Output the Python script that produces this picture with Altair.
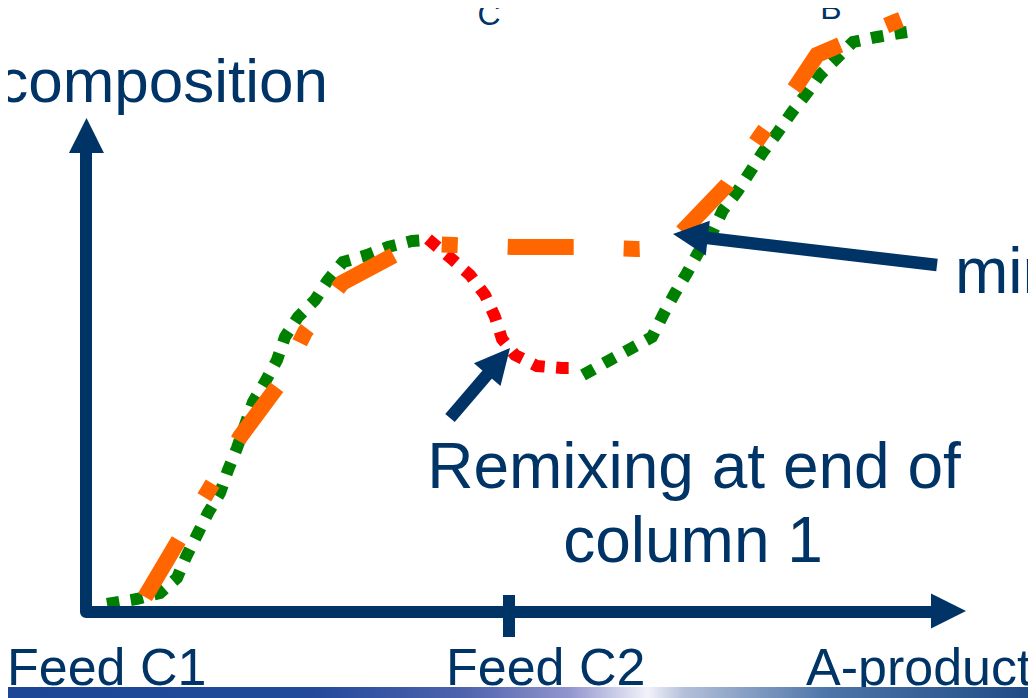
import math
import altair as alt
import pandas as pd

NAVY = "#003366"
GREEN = "#008000"
RED = "#FF0000"
ORANGE = "#FF6600"
FONT = "Liberation Sans"

W, H = 1020, 690
# picture frame (x from left, y from top)
X_DOMAIN = [8, 1028]
Y_DOMAIN = [8, 698]

# --- composition profiles (column position, composition) -------------------
green1_x = [107, 137, 160, 177, 186, 197, 208, 220, 228, 237, 245, 253, 265, 277,
            285, 298, 315, 328, 343, 367, 388, 412, 425]
green1_y = [604, 599, 593, 578, 557, 535, 513, 493, 470, 448, 425, 402, 382, 360,
            337, 317, 300, 280, 262, 255, 247, 241, 240]

red_x = [428, 453, 470, 485, 495, 502, 515, 537, 562, 570]
red_y = [239, 260, 275, 295, 317, 339, 355, 366, 368, 368]

green2_x = [583, 610, 632, 652, 663, 675, 687, 698, 713, 723, 737, 750, 763, 778,
            792, 807, 820, 837, 853, 877, 900, 907]
green2_y = [375, 360, 348, 337, 315, 293, 273, 253, 231, 210, 192, 172, 152, 132,
            112, 93, 75, 58, 42, 37, 33, 32]

orange_x = [145, 180, 210, 240, 280, 305, 342, 398, 430, 454, 512, 579, 637, 668,
            683, 727, 761, 797, 817, 840, 895, 905]
orange_y = [597, 538, 488, 437, 383, 332, 283, 253, 244, 245, 247, 247, 249, 248,
            231, 185, 135, 85, 55, 45, 22, 18]

# --- axes / arrows ------------------------------------------------------------
axis_x = [86, 86, 945]
axis_y = [140, 612, 612]
feed2_tick_x = [509]
feed2_tick_y = [595]
feed2_tick_y2 = [637]

# arrows: tail -> tip
arrow_names = ["y-axis", "x-axis", "mixing", "remixing"]
arrow_tail_x = [86, 86, 937, 450]
arrow_tail_y = [612, 612, 265, 418]
arrow_tip_x = [86.5, 966, 673, 510]
arrow_tip_y = [118, 611, 234, 348]
arrow_has_shaft = [False, False, True, True]
HEAD_LEN = 35

# --- texts ---------------------------------------------------------------------
text_left = ["Feed C1", "Feed C2", "A-product", "min"]
text_left_x = [7, 446, 806, 955]
text_left_y = [685, 685, 685, 293]
text_left_size = [52, 52, 52, 64]

text_center = ["C", "B", "Remixing at end of", "column 1"]
text_center_x = [489, 831, 694, 693]
text_center_y = [25, 19, 488, 562]
text_center_size = [32, 32, 64, 64]

text_right = ["composition"]
text_right_x = [328]
text_right_y = [102]
text_right_size = [62]

# bottom band
band_x, band_x2, band_y, band_y2 = [0], [1036], [687], [700]
band_stops = [(0.0, "#1E4696"), (0.30, "#224A9A"), (0.45, "#4F63AE"), (0.55, "#9296CE"),
              (0.625, "#F2F2FA"), (0.66, "#B4C0DA"), (0.80, "#4C74A8"), (1.0, "#1E4A84")]

xs = alt.Scale(domain=X_DOMAIN, nice=False, zero=False)
ys = alt.Scale(domain=Y_DOMAIN, nice=False, zero=False, reverse=True)


def X(f="x"):
    return alt.X(f"{f}:Q", scale=xs, axis=None)


def Y(f="y"):
    return alt.Y(f"{f}:Q", scale=ys, axis=None)


def curve(xv, yv, color, width, dash):
    df = pd.DataFrame({"x": xv, "y": yv, "i": range(len(xv))})
    return alt.Chart(df).mark_line(color=color, strokeWidth=width, strokeDash=dash,
                                   strokeCap="butt", strokeJoin="miter").encode(
        x=X(), y=Y(), order=alt.Order("i:Q"))


band = alt.Chart(pd.DataFrame({"x": band_x, "x2": band_x2, "y": band_y, "y2": band_y2})).mark_rect(
    color=alt.Gradient(gradient="linear", x1=0, x2=1, y1=0, y2=0,
                       stops=[alt.GradientStop(offset=o, color=c) for o, c in band_stops])
).encode(x=X(), x2="x2:Q", y=Y(), y2="y2:Q")

axes = alt.Chart(pd.DataFrame({"x": axis_x, "y": axis_y, "i": range(len(axis_x))})).mark_line(
    color=NAVY, strokeWidth=12, strokeJoin="round").encode(x=X(), y=Y(), order=alt.Order("i:Q"))

tick = alt.Chart(pd.DataFrame({"x": feed2_tick_x, "y": feed2_tick_y, "y2": feed2_tick_y2})).mark_rule(
    color=NAVY, strokeWidth=12).encode(x=X(), y=Y(), y2="y2:Q")

# arrow heads and shafts
heads, shafts = [], []
for n, tx, ty, px, py, sh in zip(arrow_names, arrow_tail_x, arrow_tail_y, arrow_tip_x,
                                 arrow_tip_y, arrow_has_shaft):
    dx, dy = px - tx, py - ty
    L = math.hypot(dx, dy)
    ux, uy = dx / L, dy / L
    cx, cy = px - ux * HEAD_LEN / 2, py - uy * HEAD_LEN / 2
    ang = math.degrees(math.atan2(ux, -uy)) % 360
    heads.append({"x": cx, "y": cy, "angle": ang, "size": HEAD_LEN ** 2})
    if sh:
        shafts.append({"x": tx, "y": ty, "x2": cx, "y2": cy})

head_layer = alt.Chart(pd.DataFrame(heads)).mark_point(
    shape="M0,-1L1,1L-1,1Z", filled=True, color=NAVY, opacity=1, strokeWidth=0).encode(
    x=X(), y=Y(), size=alt.Size("size:Q", scale=None), angle=alt.Angle("angle:Q", scale=None))

shaft_layer = alt.Chart(pd.DataFrame(shafts)).mark_rule(
    color=NAVY, strokeWidth=12.5).encode(x=X(), y=Y(), x2="x2:Q", y2="y2:Q")


def texts(labels, xv, yv, sv, align):
    df = pd.DataFrame({"t": labels, "x": xv, "y": yv, "s": sv})
    return alt.Chart(df).mark_text(align=align, baseline="alphabetic", font=FONT,
                                   color=NAVY).encode(
        x=X(), y=Y(), text="t:N", size=alt.Size("s:Q", scale=None))


chart = alt.layer(
    curve(green1_x, green1_y, GREEN, 12, [12.5, 11.5]),
    curve(green2_x, green2_y, GREEN, 12, [12.5, 11.5]),
    curve(red_x, red_y, RED, 12, [12.5, 11.5]),
    curve(orange_x, orange_y, ORANGE, 16, [66, 50, 16, 50]),
    axes,
    tick,
    shaft_layer,
    head_layer,
    texts(text_left, text_left_x, text_left_y, text_left_size, "left"),
    texts(text_center, text_center_x, text_center_y, text_center_size, "center"),
    texts(text_right, text_right_x, text_right_y, text_right_size, "right"),
    band,
).properties(
    width=W, height=H, autosize=alt.AutoSizeParams(type="none"), padding=0,
    background="white"
).configure_view(stroke=None)

chart.save("out.html", embed_options={"renderer": "svg", "actions": False})
